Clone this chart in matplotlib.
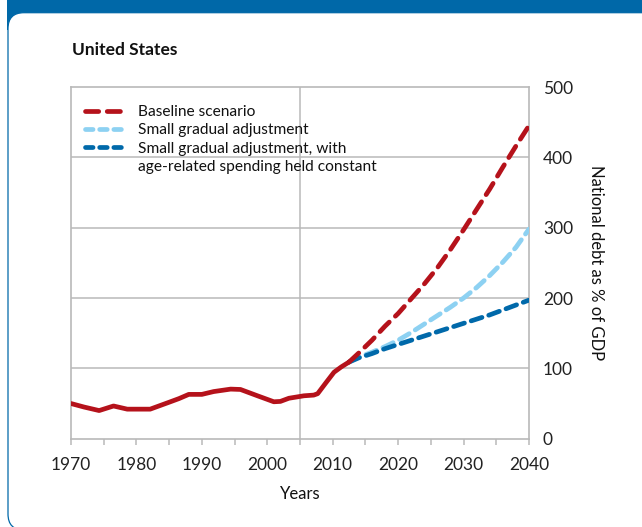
import matplotlib
matplotlib.use("Agg")
import matplotlib.pyplot as plt
from matplotlib.patches import FancyBboxPatch, Rectangle
from matplotlib.transforms import IdentityTransform
from matplotlib.lines import Line2D

plt.rcParams['font.family'] = ['Lato', 'DejaVu Sans']

# ---- data ----
hist_years = [1970, 1972, 1974.3, 1976.5, 1978.6, 1980, 1982.1, 1984.9, 1986.5, 1988,
              1990, 1991.8, 1994.4, 1995.9, 1998.5, 2001, 2002, 2003.3, 2005.6,
              2007.1, 2007.7, 2009, 2010.2, 2011.3, 2012.5]
hist_debt = [50, 45, 40, 46.5, 42, 42, 42, 51.5, 57, 63,
             63, 67, 70.5, 70, 61, 52.5, 53, 57.5, 61,
             62, 64, 80, 94.5, 102, 109]

proj_years = [2012.5, 2014, 2016, 2018, 2020, 2022, 2024, 2026, 2028, 2030,
              2032, 2034, 2036, 2038, 2040]
baseline = [109, 122, 140, 160, 178, 199, 220, 243, 269, 297,
            326, 355, 386, 416, 445]
gradual = [109, 116, 123, 131, 140, 151, 163, 175, 187, 200,
           215, 232, 251, 272, 298]
gradual_age = [109, 115, 121, 128, 134, 140, 146, 152, 158, 164,
               170, 176, 183, 190, 197]

labels = ['Baseline scenario', 'Small gradual adjustment',
          'Small gradual adjustment, with', 'age-related spending held constant']
x_ticks = list(range(1970, 2041, 5))
x_labels = [str(y) if y % 10 == 0 else '' for y in x_ticks]
y_ticks = [0, 100, 200, 300, 400, 500]

RED = '#B5121B'
LBLUE = '#8DD1F2'
DBLUE = '#0069AA'
HEAD = '#0068A8'
GRID = '#B9B9B9'

W, H = 642, 527
fig = plt.figure(figsize=(W / 100, H / 100), dpi=100)
fig.patch.set_facecolor('white')

# header band and rounded panel (display pixel coords)
band = Rectangle((7, H - 30), W - 7, 30, transform=IdentityTransform(),
                 facecolor=HEAD, edgecolor='none', zorder=-20)
fig.patches.append(band)
panel = FancyBboxPatch((8, -3), 700, (H - 12.7) + 3,
                       boxstyle='round,pad=0,rounding_size=16',
                       transform=IdentityTransform(), facecolor='white',
                       edgecolor=HEAD, linewidth=0.9, zorder=-10)
fig.patches.append(panel)

ax = fig.add_axes([71 / W, (H - 438.7) / H, 458 / W, 351.7 / H])
ax.set_xlim(1970, 2040)
ax.set_ylim(0, 500)

for s in ax.spines.values():
    s.set_color(GRID)
    s.set_linewidth(1.2)

for yv in y_ticks[1:-1]:
    ax.axhline(yv, color=GRID, lw=1.1, zorder=1)
ax.axvline(2005, color=GRID, lw=1.1, zorder=1)

lw = 3.4
ax.plot(proj_years, gradual, color=LBLUE, lw=lw, ls=(0, (2.4, 1.5)),
        dash_capstyle='round', zorder=3)
ax.plot(proj_years, gradual_age, color=DBLUE, lw=lw, ls=(0, (2.4, 1.5)),
        dash_capstyle='round', zorder=4)
ax.plot(proj_years, baseline, color=RED, lw=lw, ls=(0, (2.8, 1.8)),
        dash_capstyle='round', zorder=5)
ax.plot(hist_years, hist_debt, color=RED, lw=lw, solid_capstyle='round',
        solid_joinstyle='round', zorder=6)

ax.set_xticks(x_ticks)
ax.set_xticklabels(x_labels)
ax.tick_params(axis='x', direction='out', length=4.5, width=1.1, color=GRID,
               labelsize=12.5, pad=9, labelcolor='#222222')
ax.yaxis.tick_right()
ax.set_yticks(y_ticks)
ax.tick_params(axis='y', length=0, labelsize=12.5, pad=10, labelcolor='#222222')
ax.yaxis.set_label_position('right')
ax.set_ylabel('National debt as % of GDP', rotation=270, fontsize=12,
              labelpad=22, color='#111111')
ax.set_xlabel('Years', fontsize=12, labelpad=9, color='#111111')

handles = [Line2D([], [], color=RED, lw=lw, ls=(0, (2.8, 1.8)), dash_capstyle='round'),
           Line2D([], [], color=LBLUE, lw=lw, ls=(0, (1.6, 1.4)), dash_capstyle='round'),
           Line2D([], [], color=DBLUE, lw=lw, ls=(0, (1.6, 1.4)), dash_capstyle='round'),
           Line2D([], [], color='none', lw=0)]
leg = ax.legend(handles, labels, loc='upper left', bbox_to_anchor=(0.01, 0.975),
                frameon=False, fontsize=11.2, handlelength=2.4, handletextpad=1.0,
                labelspacing=0.28, borderaxespad=0.2)
for t in leg.get_texts():
    t.set_color('#111111')

fig.text(72 / W, 1 - 50 / H, 'United States', fontsize=12.5, fontweight='bold',
         ha='left', va='center', color='#111111')

fig.savefig('out.png', dpi=100)
